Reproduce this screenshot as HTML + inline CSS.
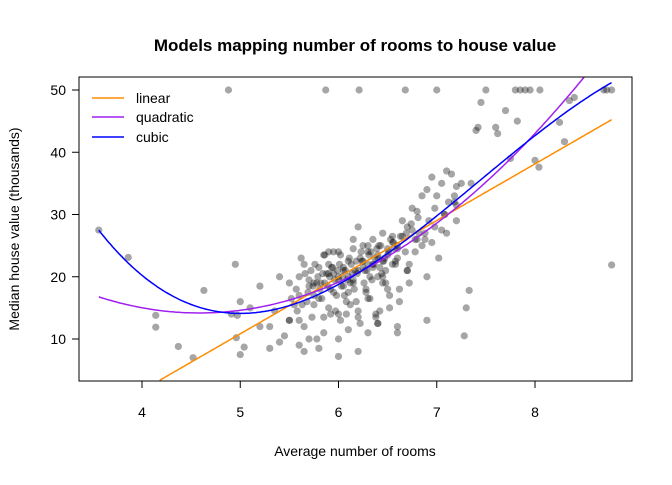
<!DOCTYPE html>
<html><head><meta charset="utf-8"><style>
body{margin:0;background:#fff;font-family:"Liberation Sans",Arial,sans-serif}
svg text{font-family:"Liberation Sans",Arial,sans-serif}
</style></head><body>
<svg id="chart" width="672" height="480" viewBox="0 0 672 480">
<rect width="672" height="480" fill="#fff"/>
<text x="355" y="51" text-anchor="middle" font-size="17" font-weight="bold">Models mapping number of rooms to house value</text>
<text x="355" y="456" text-anchor="middle" font-size="14">Average number of rooms</text>
<text transform="translate(19,229) rotate(-90)" text-anchor="middle" font-size="14">Median house value (thousands)</text>
<g id="points"></g>
<g id="lines"></g>
<rect x="79" y="77" width="553" height="304" fill="none" stroke="#000"/>
<g id="axes"></g>
<g>
<line x1="92" y1="98" x2="124" y2="98" stroke="darkorange" stroke-width="1.5"/>
<text x="136" y="103" font-size="14">linear</text>
<line x1="92" y1="117" x2="124" y2="117" stroke="#a020f0" stroke-width="1.5"/>
<text x="136" y="122" font-size="14">quadratic</text>
<line x1="92" y1="137" x2="124" y2="137" stroke="blue" stroke-width="1.5"/>
<text x="136" y="142" font-size="14">cubic</text>
</g>
</svg>
<script>
const xTicks=[4,5,6,7,8];
const yTicks=[10,20,30,40,50];
const rooms=[3.56,3.86,4.14,4.14,4.37,4.52,4.63,4.88,4.91,4.97,4.95,5.0,5.0,5.04,4.96,5.1,5.2,5.3,5.35,5.4,5.45,5.5,5.55,5.6,5.62,5.65,5.7,5.72,5.75,5.78,5.8,5.82,5.85,5.87,5.88,5.9,5.92,5.95,5.97,6.0,6.02,6.05,6.08,6.1,6.12,6.15,6.17,6.2,6.21,6.22,6.25,6.28,6.3,6.32,6.35,6.38,6.4,6.42,6.45,6.48,6.5,6.52,6.55,6.58,6.6,6.62,6.65,6.68,6.7,6.72,6.75,6.78,6.8,6.82,6.85,6.88,6.9,6.92,6.95,6.98,7.0,7.02,7.05,7.08,7.1,7.12,7.15,7.18,7.2,7.25,7.3,7.33,7.4,7.42,7.45,7.5,7.6,7.62,7.7,7.75,7.8,7.82,7.85,7.9,7.95,8.0,8.04,8.05,8.25,8.3,8.35,8.4,8.7,8.73,8.78,8.78,5.7,5.9,6.0,6.1,6.2,6.3,6.4,6.5,6.6,5.8,5.95,6.05,6.15,6.25,6.35,6.45,6.55,6.65,6.75,5.6,5.5,5.65,5.85,6.0,6.2,6.4,6.1,5.9,6.3,6.5,6.7,6.9,7.1,5.75,6.05,6.35,6.6,6.85,5.4,5.3,5.2,5.6,6.0,6.25,6.45,6.7,6.95,5.85,6.15,6.3,6.55,6.8,7.05,5.95,6.1,6.4,6.2,5.5,5.75,6.0,6.3,6.6,6.9,7.2,5.65,5.9,6.15,6.45,
5.78,5.84,5.89,5.93,5.96,6.01,6.04,6.07,6.11,6.14,6.18,6.23,6.27,6.31,6.36,6.39,6.43,6.47,6.51,6.56,5.81,5.86,5.91,5.99,6.03,6.09,6.13,6.19,6.24,6.29,6.33,6.37,6.41,6.46,6.53,6.57,6.63,6.69,6.74,6.81,5.69,5.74,5.79,5.83,5.94,6.06,6.16,6.26,6.34,6.44,5.58,5.63,5.68,5.73,5.92,6.02,6.12,6.22,6.32,6.42,6.52,6.62,6.72,5.52,5.57,5.66,5.76,5.86,5.98,6.08,6.18,6.28,6.38,6.48,6.58,6.68,6.78,6.88,6.98,7.08,7.18,7.28,5.6,5.7,5.8,6.0,6.2,6.4,6.6,7.0,7.2,7.35];
const values=[27.5,23.1,11.9,13.8,8.8,7.0,17.8,50,14.0,13.8,22.0,16.0,7.5,8.7,10.2,15.0,12.0,8.5,14.5,20.0,10.5,19.0,15.5,13.0,23.0,8.0,19.5,21.0,17.0,10.0,21.5,19.0,13.5,50,20.5,22.0,18.0,24.0,14.5,20.0,23.5,21.0,16.0,22.5,19.0,24.5,21.0,28.0,50,23.0,25.0,17.5,24.0,20.0,26.0,14.0,23.5,21.5,27.0,19.0,24.5,15.0,26.5,22.5,25.0,18.0,29.0,50,28.0,22.0,31.0,24.0,30.5,27.0,33.0,26.0,34.0,29.0,36.0,31.0,50,23.0,35.0,30.0,37.0,32.0,36.5,33.0,31.5,35.0,15.0,17.8,43.5,44.0,48.0,50,44.0,43.0,46.7,39.0,50,45.0,50,50,50,38.7,37.6,50,44.8,41.7,48.3,48.8,50,50,50,21.9,18.5,20.5,19.5,20.0,21.0,22.0,23.0,23.5,24.5,16.5,17.5,18.5,19.5,22.5,21.5,20.0,25.5,26.5,27.5,17.0,13.0,12.0,11.0,14.0,13.5,12.5,11.5,15.0,16.5,18.0,21.0,20.0,27.0,19.0,21.5,22.0,23.0,25.0,9.5,12.0,18.5,20.0,24.0,21.5,22.5,21.0,25.5,23.5,19.0,25.0,22.0,26.0,27.5,20.5,17.5,20.0,14.5,13.0,15.5,10.0,11.0,12.0,13.0,29.0,22.0,24.0,26.0,19.0,
19.0,20.5,18.5,21.5,19.5,22.0,20.0,21.0,23.0,20.5,22.5,24.0,21.0,23.5,22.0,24.5,25.0,23.0,24.0,25.5,18.0,19.0,20.0,21.0,18.5,19.5,22.0,20.5,22.5,21.0,24.0,23.0,25.0,22.5,26.0,24.5,26.5,27.0,28.5,29.5,17.5,18.5,20.0,16.5,21.5,17.0,18.0,19.0,19.5,20.5,14.5,15.5,16.0,13.5,14.0,13.0,15.5,12.5,16.5,14.5,17.0,16.0,19.0,16.5,18.0,20.5,22.0,23.5,17.0,14.0,16.0,18.0,13.5,21.0,22.0,24.0,26.0,27.0,28.0,30.0,32.0,10.5,9.0,10.0,8.5,7.2,8.0,12.5,11.0,33.0,34.5,35.0];
const coefLinear=[-34.67,9.10];
const coefQuad=[66.06,-22.64,2.47];
const coefCubic=[241.31,-109.39,16.49,-0.74];
const NS='http://www.w3.org/2000/svg';
const X=v=>142+(v-4)*98.25, Y=v=>339-(v-10)*6.225;
const svg=document.getElementById('chart');
const mk=(t,a)=>{const e=document.createElementNS(NS,t);for(const k in a)e.setAttribute(k,a[k]);return e;};
const pg=document.getElementById('points');
rooms.forEach((r,i)=>{if(values[i]===undefined)return;const c=mk('circle',{cx:X(r),cy:Y(values[i]),r:3.6,fill:'rgba(0,0,0,0.35)'});


pg.appendChild(c);});
const lg=document.getElementById('lines');
function poly(c,x){return c.reduce((s,a,i)=>s+a*Math.pow(x,i),0);}
function curve(c,col,name){let d='';for(let x=3.56;x<=8.78;x+=0.02){const y=poly(c,x);if(y<3.3||y>52.1)continue;d+=(d?'L':'M')+X(x).toFixed(1)+','+Y(y).toFixed(1);}
const p=mk('path',{d:d,fill:'none',stroke:col,'stroke-width':1.5});


lg.appendChild(p);}
curve(coefLinear,'darkorange','linear-line');
curve(coefQuad,'#a020f0','quadratic-line');
curve(coefCubic,'blue','cubic-line');
const ax=document.getElementById('axes');
ax.appendChild(mk('line',{x1:X(4),y1:381,x2:X(8),y2:381,stroke:'#000'}));
xTicks.forEach(t=>{ax.appendChild(mk('line',{x1:X(t),y1:381,x2:X(t),y2:388,stroke:'#000'}));
const tx=mk('text',{x:X(t),y:417,'text-anchor':'middle','font-size':14});tx.textContent=t;


ax.appendChild(tx);});
yTicks.forEach(t=>{ax.appendChild(mk('line',{x1:72,y1:Y(t),x2:79,y2:Y(t),stroke:'#000'}));
const tx=mk('text',{x:66,y:Y(t)+5,'text-anchor':'end','font-size':14});tx.textContent=t;


ax.appendChild(tx);});
</script>
</body></html>
